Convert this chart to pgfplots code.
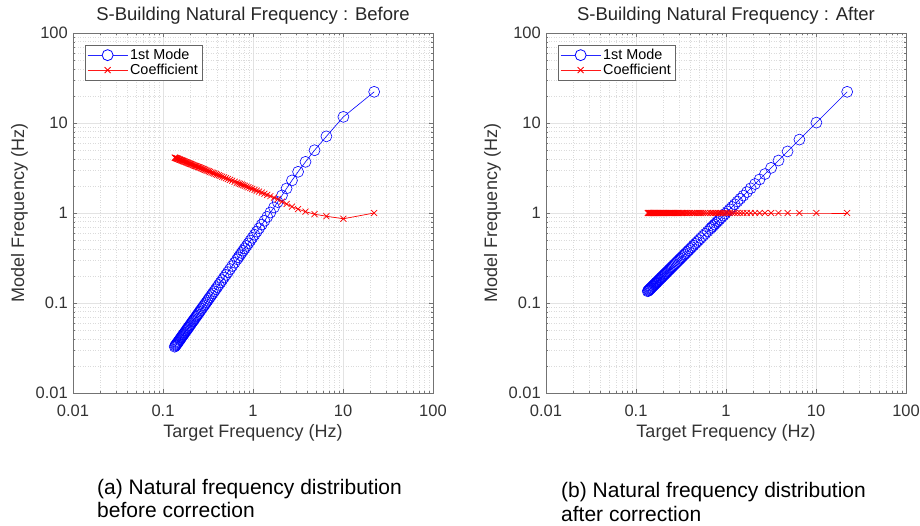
\documentclass[border=0pt]{standalone}
\usepackage{fontspec}
\setmainfont{Liberation Sans}
\usepackage{pgfplots}
\usepackage{pgfplotstable}
\pgfplotsset{compat=1.18}

% target frequency, model frequency, coefficient (before correction)
\pgfplotstableread{
f mb cb
22.2 22.2 1.000
10.1 11.70 0.863
6.54 7.11 0.920
4.83 4.98 0.970
3.83 3.70 1.035
3.17 2.87 1.104
2.71 2.30 1.177
2.36 1.873 1.260
2.10 1.567 1.340
1.88 1.324 1.420
1.71 1.152 1.484
1.56 1.013 1.540
1.44 0.905 1.591
1.34 0.8186 1.637
1.25 0.7423 1.684
1.17 0.6767 1.729
1.10 0.6204 1.773
1.04 0.5736 1.813
0.983 0.5299 1.855
0.934 0.4931 1.894
0.889 0.4601 1.932
0.848 0.4305 1.970
0.811 0.4045 2.005
0.777 0.3809 2.040
0.746 0.3597 2.074
0.717 0.3403 2.107
0.690 0.3224 2.140
0.665 0.3062 2.172
0.625 0.2806 2.227
0.588 0.2577 2.282
0.556 0.2382 2.334
0.526 0.2204 2.387
0.500 0.2053 2.436
0.476 0.1916 2.485
0.455 0.1798 2.530
0.435 0.1688 2.577
0.417 0.1591 2.621
0.400 0.1500 2.666
0.385 0.1423 2.706
0.370 0.1345 2.750
0.357 0.1280 2.790
0.345 0.1220 2.829
0.333 0.1160 2.870
0.323 0.1112 2.905
0.3125 0.1061 2.944
0.303 0.1016 2.981
0.294 0.0974 3.018
0.286 0.0937 3.051
0.278 0.0901 3.087
0.270 0.0865 3.122
0.263 0.0833 3.156
0.256 0.0802 3.191
0.250 0.0776 3.221
0.244 0.0750 3.253
0.238 0.0724 3.285
0.233 0.0703 3.313
0.227 0.0678 3.349
0.222 0.0657 3.379
0.217 0.0636 3.410
0.213 0.0620 3.436
0.208 0.0600 3.469
0.204 0.0584 3.496
0.200 0.0567 3.525
0.196 0.0552 3.553
0.192 0.0536 3.583
0.189 0.0524 3.606
0.185 0.0509 3.637
0.182 0.0497 3.661
0.179 0.0486 3.686
0.175 0.0470 3.720
0.172 0.0459 3.746
0.169 0.0448 3.772
0.167 0.0441 3.791
0.164 0.0430 3.818
0.161 0.0419 3.847
0.159 0.0411 3.866
0.156 0.0400 3.896
0.154 0.0393 3.916
0.152 0.0386 3.937
0.149 0.0375 3.969
0.147 0.0368 3.990
0.145 0.0361 4.013
0.143 0.0354 4.035
0.141 0.0347 4.058
0.139 0.0341 4.082
0.137 0.0334 4.106
0.135 0.0327 4.130
}\tbefore

% after correction: model = target, coefficient = 1
\pgfplotstableread{
f ma ca
22.2 22.2 1
10.1 10.1 1
6.54 6.54 1
4.83 4.83 1
3.83 3.83 1
3.17 3.17 1
2.71 2.71 1
2.36 2.36 1
2.10 2.10 1
1.88 1.88 1
1.71 1.71 1
1.56 1.56 1
1.44 1.44 1
1.34 1.34 1
1.25 1.25 1
1.17 1.17 1
1.10 1.10 1
1.04 1.04 1
0.983 0.983 1
0.934 0.934 1
0.889 0.889 1
0.848 0.848 1
0.811 0.811 1
0.777 0.777 1
0.746 0.746 1
0.717 0.717 1
0.690 0.690 1
0.665 0.665 1
0.625 0.625 1
0.588 0.588 1
0.556 0.556 1
0.526 0.526 1
0.500 0.500 1
0.476 0.476 1
0.455 0.455 1
0.435 0.435 1
0.417 0.417 1
0.400 0.400 1
0.385 0.385 1
0.370 0.370 1
0.357 0.357 1
0.345 0.345 1
0.333 0.333 1
0.323 0.323 1
0.3125 0.3125 1
0.303 0.303 1
0.294 0.294 1
0.286 0.286 1
0.278 0.278 1
0.270 0.270 1
0.263 0.263 1
0.256 0.256 1
0.250 0.250 1
0.244 0.244 1
0.238 0.238 1
0.233 0.233 1
0.227 0.227 1
0.222 0.222 1
0.217 0.217 1
0.213 0.213 1
0.208 0.208 1
0.204 0.204 1
0.200 0.200 1
0.196 0.196 1
0.192 0.192 1
0.189 0.189 1
0.185 0.185 1
0.182 0.182 1
0.179 0.179 1
0.175 0.175 1
0.172 0.172 1
0.169 0.169 1
0.167 0.167 1
0.164 0.164 1
0.161 0.161 1
0.159 0.159 1
0.156 0.156 1
0.154 0.154 1
0.152 0.152 1
0.149 0.149 1
0.147 0.147 1
0.145 0.145 1
0.143 0.143 1
0.141 0.141 1
0.139 0.139 1
0.137 0.137 1
0.135 0.135 1
}\tafter

\pgfplotsset{
  every axis/.append style={
    width=360pt, height=360pt, scale only axis,
    xmin=0.01, xmax=100, ymin=0.01, ymax=100,
    xtick={0.01,0.1,1,10,100}, xticklabels={0.01,0.1,1,10,100},
    ytick={0.01,0.1,1,10,100}, yticklabels={0.01,0.1,1,10,100},
    minor xtick={0.02,0.03,0.04,0.05,0.06,0.07,0.08,0.09,0.2,0.3,0.4,0.5,0.6,0.7,0.8,0.9,2,3,4,5,6,7,8,9,20,30,40,50,60,70,80,90},
    minor ytick={0.02,0.03,0.04,0.05,0.06,0.07,0.08,0.09,0.2,0.3,0.4,0.5,0.6,0.7,0.8,0.9,2,3,4,5,6,7,8,9,20,30,40,50,60,70,80,90},
    grid=both,
    major grid style={black!11, line width=0.6pt},
    minor grid style={black!14, line width=0.5pt, dotted},
    axis line style={black!55},
    tick align=inside,
    major tick length=4pt, minor tick length=2pt,
    tick style={black!55},
    ticklabel style={font=\fontsize{16.5}{18}\selectfont, text=black!80},
    xticklabel style={anchor=center, yshift=-18pt},
    yticklabel style={anchor=east, inner sep=0pt, xshift=-5pt},
    title style={at={(0.5,1)}, anchor=base, yshift=6pt, font=\fontsize{18.5}{20}\selectfont, text=black!85},
    label style={font=\fontsize{18}{20}\selectfont, text=black!80},
    xlabel style={at={(axis description cs:0.5,-0.111)}, anchor=center},
    ylabel style={at={(axis description cs:-0.1486,0.5)}, anchor=center},
    legend style={at={(axis description cs:0,1)}, anchor=north west,
      xshift=12pt, yshift=-12pt, draw=black!60, fill=white,
      font=\fontsize{14.4}{17}\selectfont, inner sep=2pt, row sep=-1pt},
    legend cell align=left,
  },
  modeimg/.style={legend image code/.code={
    \draw[draw=blue!85, line width=0.9pt] (0pt,0pt) -- (14.5pt,0pt) (25.5pt,0pt) -- (40pt,0pt);
    \draw[draw=blue, line width=0.8pt] (20pt,0pt) circle[radius=5.5pt];}},
  coefimg/.style={legend image code/.code={
    \draw[draw=red!90, line width=0.9pt] (0pt,0pt) -- (40pt,0pt);
    \draw[draw=red, line width=0.8pt] (17pt,-3pt) -- (23pt,3pt) (17pt,3pt) -- (23pt,-3pt);}},
}

\begin{document}
\begin{tikzpicture}
\path[use as bounding box] (0,0) rectangle (920pt,526pt);

\begin{loglogaxis}[at={(73pt,133pt)}, anchor=south west,
  xlabel={Target Frequency (Hz)}, ylabel={Model Frequency (Hz)},
  title={S-Building Natural Frequency : Before}]
\addplot[forget plot, color=blue, line width=0.6pt, mark=o, mark size=5.5pt, mark options={solid}] table[x=f, y=mb] {\tbefore};
\addplot[forget plot, color=red, line width=0.7pt, mark=x, mark size=4.2pt, mark options={solid}] table[x=f, y=cb] {\tbefore};
\addlegendimage{modeimg}
\addlegendentry{1st Mode}
\addlegendimage{coefimg}
\addlegendentry{Coefficient}
\end{loglogaxis}

\begin{loglogaxis}[at={(546pt,133pt)}, anchor=south west,
  xlabel={Target Frequency (Hz)}, ylabel={Model Frequency (Hz)},
  title={S-Building Natural Frequency : After}]
\addplot[forget plot, color=blue, line width=0.6pt, mark=o, mark size=5.5pt, mark options={solid}] table[x=f, y=ma] {\tafter};
\addplot[forget plot, color=red, line width=0.7pt, mark=x, mark size=4.2pt, mark options={solid}] table[x=f, y=ca] {\tafter};
\addlegendimage{modeimg}
\addlegendentry{1st Mode}
\addlegendimage{coefimg}
\addlegendentry{Coefficient}
\end{loglogaxis}

\begin{scope}[font=\fontsize{21}{25}\selectfont]
\node[anchor=base west, inner sep=0pt] at (97pt,31pt) {(a) Natural frequency distribution};
\node[anchor=base west, inner sep=0pt] at (97pt,8pt) {before correction};
\node[anchor=base west, inner sep=0pt] at (561pt,28pt) {(b) Natural frequency distribution};
\node[anchor=base west, inner sep=0pt] at (561pt,4pt) {after correction};
\end{scope}
\end{tikzpicture}
\end{document}
